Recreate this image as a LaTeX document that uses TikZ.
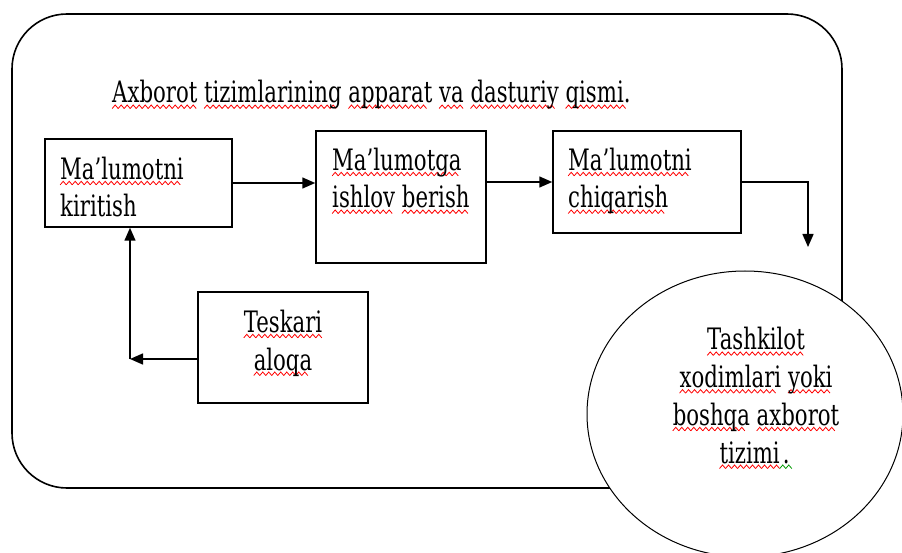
\documentclass[tikz,border=0pt]{standalone}
\usepackage{fontspec}
\setmainfont{DejaVu Serif}[FakeStretch=0.72]
\usetikzlibrary{arrows.meta,shapes.geometric}
\newsavebox\redwave
\newsavebox\greenwave
\newsavebox\sqtmp
\newcommand\wavedword[2]{\leavevmode\sbox\sqtmp{#2}\rlap{\lower5.5pt\hbox to\wd\sqtmp{\leaders\copy#1\hfill}}\usebox\sqtmp}
\newcommand\sq[1]{\wavedword{\redwave}{#1}}
\newcommand\gq[1]{\wavedword{\greenwave}{#1}}
\newcommand\makewave[2]{\sbox#1{\begin{pgfpicture}\pgfpathrectangle{\pgfpointorigin}{\pgfpoint{6pt}{3.5pt}}\pgfusepath{use as bounding box}\pgfsetlinewidth{0.8pt}\pgfsetstrokecolor{#2}\pgfpathmoveto{\pgfpointorigin}\pgfpathlineto{\pgfpoint{3pt}{3.5pt}}\pgfpathlineto{\pgfpoint{6pt}{0pt}}\pgfusepath{stroke}\end{pgfpicture}}}
\colorlet{wavegreen}{green!60!black}
\tikzset{
  boxnode/.style={draw, line width=1.5pt, inner sep=0pt},
  txt/.style={font=\fontsize{29.5}{37.7}\selectfont, inner sep=0pt},
  arr/.style={line width=1.5pt, -{Triangle[length=13pt,width=11pt]}},
  frame/.style={draw, line width=1.6pt, rounded corners=55pt},
}
\begin{document}
\makewave{\redwave}{red}%
\makewave{\greenwave}{wavegreen}%
\begin{tikzpicture}[x=1pt,y=-1pt]
\useasboundingbox (0,0) rectangle (902,553);
% outer frame
\draw[frame] (12,14) rectangle (842,488);
% title
\node[txt, anchor=base west] (title) at (112,103) {\sq{Axborot} \sq{tizimlarining} \sq{apparat} \sq{va} \sq{dasturiy} \sq{qismi.}};
% boxes
\node[boxnode, minimum width=187pt, minimum height=88pt] (b1) at (138.5,183) {};
\node[boxnode, minimum width=170pt, minimum height=132pt] (b2) at (401,197) {};
\node[boxnode, minimum width=188pt, minimum height=102pt] (b3) at (647,182) {};
\node[boxnode, minimum width=170pt, minimum height=111pt] (b4) at (283,347.5) {};
% box texts (base anchor = baseline of the last line)
\node[txt, anchor=base west, align=left] (t1) at (60,217) {\sq{Ma’lumotni}\\kiritish};
\node[txt, anchor=base west, align=left] (t2) at (332,208) {\sq{Ma’lumotga}\\\sq{ishlov} \sq{berish}};
\node[txt, anchor=base west, align=left] (t3) at (568,208) {\sq{Ma’lumotni}\\\sq{chiqarish}};
\node[txt, anchor=base, align=center] (t4) at (283,370) {\sq{Teskari}\\\sq{aloqa}};
% ellipse
\node[ellipse, draw, line width=1pt, fill=white, minimum width=316pt, minimum height=286pt, inner sep=0pt] (el) at (745,414) {};
\node[txt, anchor=base, align=center] (t5) at (756,463) {\sq{Tashkilot}\\\sq{xodimlari} \sq{yoki}\\\sq{boshqa} \sq{axborot}\\\sq{tizimi}\gq{\hspace{3pt}.\hspace{3pt}}};
% connectors
\coordinate (dn) at (808,247);
\coordinate (fb) at (130,359);
\draw[arr] (b1.east) -- (b1.east -| b2.west);
\draw[arr] (b3.west -| b2.east) -- (b3.west);
\draw[arr] (b3.east) -| (dn);
\draw[arr] (b4.west |- fb) -- (fb);
\draw[arr] (fb) -- (fb |- b1.south);
\end{tikzpicture}
\end{document}
